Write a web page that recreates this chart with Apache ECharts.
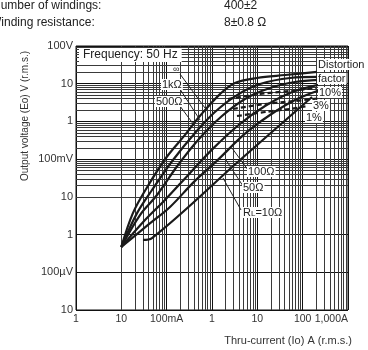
<!DOCTYPE html>
<html><head><meta charset="utf-8">
<script src="https://cdn.jsdelivr.net/npm/echarts@6/dist/echarts.min.js"></script>
<style>html,body{margin:0;padding:0;background:#fff}#c{width:368px;height:350px}</style>
</head><body><div id="c"></div>
<script>
// tick labels (x exponents -3..3, y exponents -5..2)
const xTickLabels = ['1','10','100mA','1','10','100','1,000A'];
const yTickLabels = ['10','100µV','1','10','100mV','1','10','100V'];

// load curves: current (A) and output voltage (V)
const curInf  = [0.01, 0.018, 0.037, 0.10, 0.254, 0.54, 1.5, 3.2, 9.8, 41, 207];
const voltInf = [0.00047, 0.0037, 0.018, 0.114, 0.44, 1.39, 5.3, 10.5, 14.2, 17, 20.5];
const cur1k   = [0.01, 0.0222, 0.0475, 0.138, 0.422, 1.16, 3.56, 11.5, 52.6, 218];
const volt1k  = [0.00047, 0.0037, 0.0152, 0.095, 0.494, 1.78, 5.0, 9.8, 14.2, 15.1];
const cur500  = [0.01, 0.0258, 0.0612, 0.178, 0.54, 1.66, 5.35, 19, 67.8, 218];
const volt500 = [0.00047, 0.0033, 0.0112, 0.07, 0.364, 1.39, 3.94, 7.7, 11.1, 12.6];
const cur100  = [0.01, 0.0333, 0.0918, 0.31, 1.05, 4.0, 14.8, 52.6, 218];
const volt100 = [0.00047, 0.00244, 0.0083, 0.040, 0.19, 0.83, 2.57, 5.7, 9.3];
const cur50   = [0.01, 0.0387, 0.1186, 0.40, 1.4, 5.2, 19, 67.8, 242];
const volt50  = [0.00047, 0.0018, 0.0054, 0.025, 0.10, 0.46, 1.48, 3.7, 6.8];
const cur10   = [0.030, 0.0475, 4.15, 161];
const volt10  = [0.00072, 0.00081, 0.095, 4.45];

// distortion factor lines
const curD10  = [2.25, 11.5, 52.6, 197];
const voltD10 = [3.94, 5.35, 6.42, 7.71];
const curD3   = [2.9, 14.8, 67.8, 267];
const voltD3  = [2.14, 2.9, 3.48, 4.19];
const curD1   = [3.56, 14.8, 52.6, 131];
const voltD1  = [1.39, 1.78, 2.14, 2.57];

const pair = (a, b) => a.map((v, i) => [v, b[i]]);

// log-paper grid values
const gridX = [], gridY = [];
for (let e = -3; e < 3; e++) for (let m = 2; m <= 9; m++) gridX.push(m * Math.pow(10, e));
for (let e = -5; e < 2; e++) for (let m = 2; m <= 9; m++) gridY.push(m * Math.pow(10, e));

const chart = echarts.init(document.getElementById('c'), null, {renderer: 'canvas'});
const FONT = '"Liberation Sans", Arial, sans-serif';
const solid = (name, c, v) => ({
  name, type: 'line', data: pair(c, v), smooth: 0.35, symbol: 'none', z: 5,
  lineStyle: {color: '#1a1a1a', width: 2.2}
});
const dashed = (name, c, v) => ({
  name, type: 'line', data: pair(c, v), smooth: 0.3, symbol: 'none', z: 6,
  lineStyle: {color: '#1a1a1a', width: 2.2, type: [5, 3]}
});
const lbl = (x, y, text, extra) => Object.assign({
  type: 'text', left: x, top: y, z: 20,
  style: {text, font: '11px ' + FONT, fill: '#222', backgroundColor: '#fff', padding: [0, 1]}
}, extra || {});
const seg = (x1, y1, x2, y2) => ({
  type: 'line', z: 19, shape: {x1, y1, x2, y2}, style: {stroke: '#222', lineWidth: 1}
});

chart.setOption({
  animation: false,
  grid: {left: 76, right: 20, top: 46, bottom: 40, show: true, borderColor: '#111', borderWidth: 1},
  xAxis: {
    type: 'log', logBase: 10, min: 0.001, max: 1000, interval: 1,
    axisLine: {show: false}, axisTick: {show: false},
    splitLine: {show: true, lineStyle: {color: '#111', width: 1}},
    axisLabel: {color: '#333', fontSize: 10.5, fontFamily: FONT, margin: 4, alignMaxLabel: 'right',
      formatter: v => xTickLabels[Math.round(Math.log10(v)) + 3]}
  },
  yAxis: {
    type: 'log', logBase: 10, min: 0.00001, max: 100, interval: 1,
    axisLine: {show: false}, axisTick: {show: false},
    splitLine: {show: true, lineStyle: {color: '#111', width: 1}},
    axisLabel: {color: '#333', fontSize: 11, fontFamily: FONT, margin: 3,
      formatter: v => yTickLabels[Math.round(Math.log10(v)) + 5]}
  },
  series: [
    {type: 'line', data: [], silent: true, markLine: {
      silent: true, symbol: 'none', label: {show: false}, animation: false,
      lineStyle: {color: '#3a3a3a', width: 1, type: 'solid'},
      data: gridX.map(v => ({xAxis: v})).concat(gridY.map(v => ({yAxis: v})))
    }},
    solid('inf', curInf, voltInf),
    solid('1k', cur1k, volt1k),
    solid('500', cur500, volt500),
    solid('100', cur100, volt100),
    solid('50', cur50, volt50),
    solid('10', cur10, volt10),
    dashed('d10', curD10, voltD10),
    dashed('d3', curD3, voltD3),
    dashed('d1', curD1, voltD1)
  ],
  graphic: [
    {type: 'text', left: -8, top: 0, style: {text: 'Number of windings:', font: '12px ' + FONT, fill: '#222'}},
    {type: 'text', left: -10, top: 17, style: {text: 'Winding resistance:', font: '12px ' + FONT, fill: '#222'}},
    {type: 'text', left: 224, top: 0, style: {text: '400±2', font: '12px ' + FONT, fill: '#222'}},
    {type: 'text', left: 224, top: 17, style: {text: '8±0.8 Ω', font: '12px ' + FONT, fill: '#222'}},
    {type: 'text', x: 25, y: 116, rotation: Math.PI / 2,
      style: {text: 'Output voltage (Eo) V (r.m.s.)', font: '10px ' + FONT, fill: '#333', align: 'center', verticalAlign: 'middle'}},
    {type: 'text', right: 16, top: 335, style: {text: 'Thru-current (Io) A (r.m.s.)', font: '11px ' + FONT, fill: '#333'}},
    lbl(79, 48, 'Frequency: 50 Hz', {style: {text: 'Frequency: 50 Hz', font: '12px ' + FONT, fill: '#222', backgroundColor: '#fff', padding: [1, 4]}}),
    lbl(173, 65, '∞', {style: {text: '∞', font: '9px ' + FONT, fill: '#222'}}),
    lbl(161, 79, '1kΩ'),
    lbl(155, 96, '500Ω'),
    seg(180, 74, 205, 108), seg(178, 86, 200, 120), seg(177, 102, 194, 125),
    lbl(317, 59, 'Distortion'),
    lbl(317, 73, 'factor'),
    lbl(318, 87, '10%'),
    lbl(312, 100, '3%'),
    lbl(305, 112, '1%'),
    lbl(247, 166, '100Ω'),
    lbl(242, 182, '50Ω'),
    {type: 'text', left: 242, top: 207, z: 20, style: {
      text: '{a|R}{b|L}{a|=10Ω}', backgroundColor: '#fff', padding: [0, 1],
      rich: {a: {font: '11px ' + FONT, fill: '#222'}, b: {font: '8px ' + FONT, fill: '#222', padding: [3, 0, 0, 0]}}}},
    seg(248, 170, 232, 148), seg(243, 186, 226, 160), seg(241, 210, 223, 178)
  ]
});
</script></body></html>
